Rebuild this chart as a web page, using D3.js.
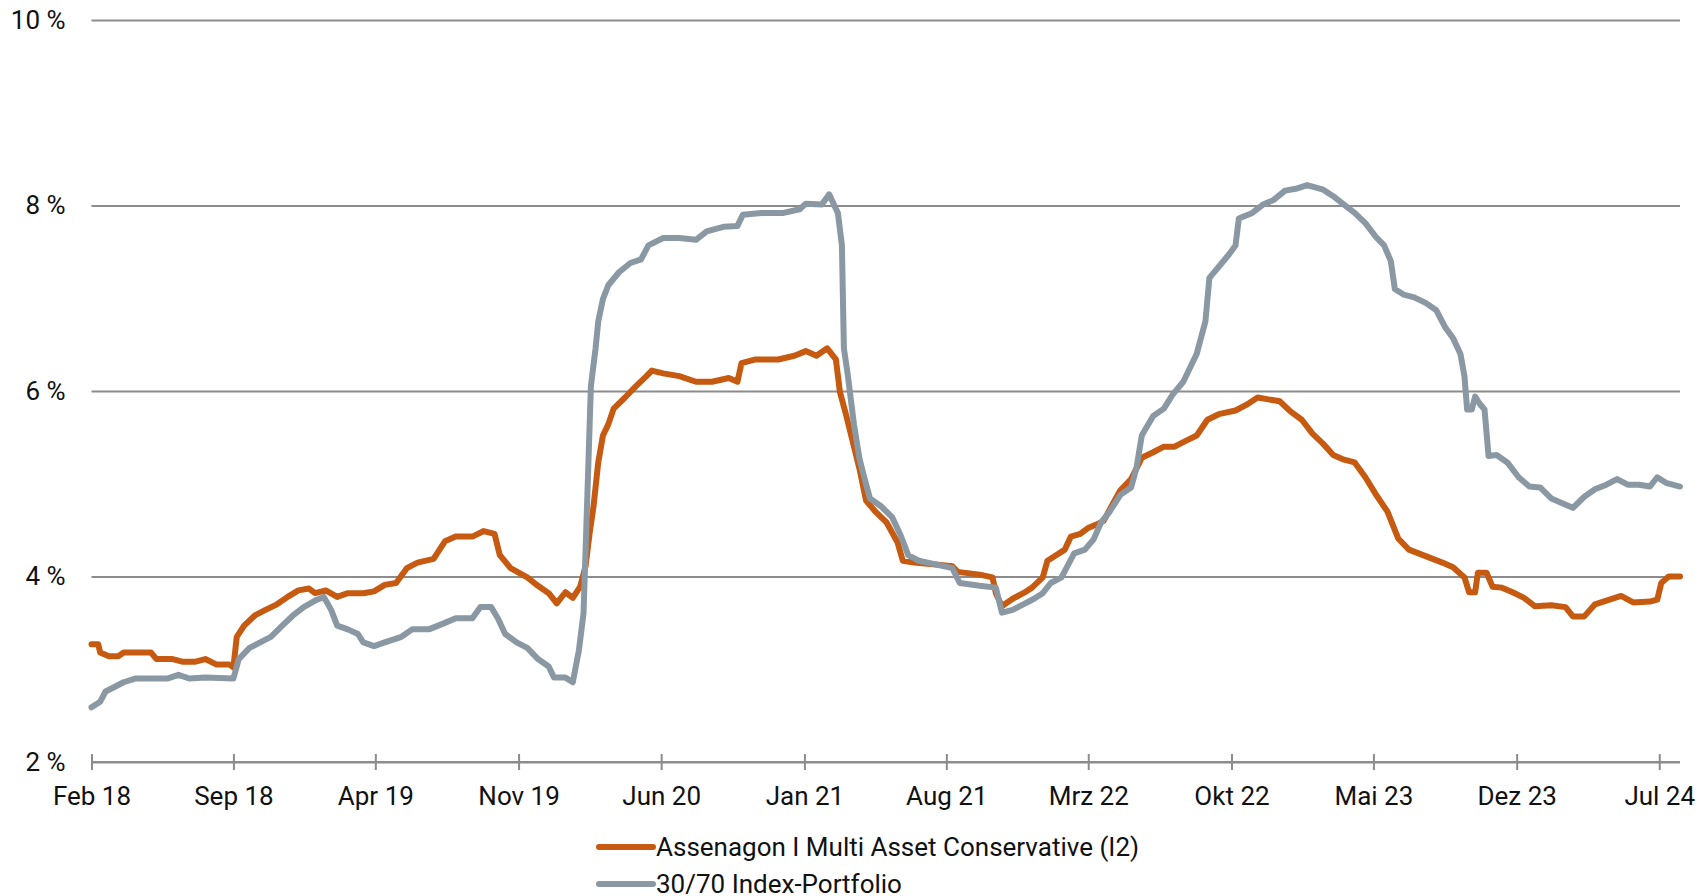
<!DOCTYPE html>
<html>
<head>
<meta charset="utf-8">
<script src="https://cdn.jsdelivr.net/npm/d3@7/dist/d3.min.js"></script>
<style>
  html, body { margin: 0; padding: 0; background: #fff; }
  svg { display: block; }
</style>
</head>
<body>
<svg width="1707" height="896"></svg>
<script>
const tickDates = ['2018-02-01','2018-09-01','2019-04-01','2019-11-01','2020-06-01','2021-01-01',
  '2021-08-01','2022-03-01','2022-10-01','2023-05-01','2023-12-01','2024-07-01'];
const tickLabels = ['Feb 18','Sep 18','Apr 19','Nov 19','Jun 20','Jan 21',
  'Aug 21','Mrz 22','Okt 22','Mai 23','Dez 23','Jul 24'];
const yTicks = [2, 4, 6, 8, 10];

const seriesNames = ['Assenagon I Multi Asset Conservative (I2)', '30/70 Index-Portfolio'];

const fund = [
  ['2018-02-01',3.27],['2018-02-11',3.27],['2018-02-14',3.18],['2018-02-27',3.14],['2018-03-13',3.14],
  ['2018-03-21',3.18],['2018-05-01',3.18],['2018-05-09',3.11],['2018-06-02',3.11],['2018-06-18',3.08],
  ['2018-07-05',3.08],['2018-07-21',3.11],['2018-08-07',3.05],['2018-08-26',3.05],['2018-09-01',3.02],
  ['2018-09-06',3.35],['2018-09-17',3.47],['2018-10-03',3.58],['2018-10-19',3.64],['2018-11-05',3.70],
  ['2018-11-21',3.78],['2018-12-07',3.85],['2018-12-23',3.87],['2019-01-01',3.82],['2019-01-17',3.85],
  ['2019-02-03',3.78],['2019-02-19',3.82],['2019-03-14',3.82],['2019-03-30',3.84],['2019-04-15',3.91],
  ['2019-05-02',3.93],['2019-05-18',4.09],['2019-06-03',4.15],['2019-06-27',4.19],['2019-07-14',4.38],
  ['2019-07-30',4.43],['2019-08-24',4.43],['2019-09-10',4.49],['2019-09-26',4.46],['2019-10-04',4.23],
  ['2019-10-20',4.09],['2019-11-14',3.99],['2019-11-30',3.90],['2019-12-16',3.82],['2019-12-28',3.71],
  ['2020-01-10',3.83],['2020-01-21',3.77],['2020-02-01',3.89],['2020-02-09',4.11],['2020-02-15',4.46],
  ['2020-02-21',4.76],['2020-02-28',5.23],['2020-03-06',5.52],['2020-03-14',5.64],['2020-03-22',5.81],
  ['2020-04-08',5.93],['2020-04-24',6.05],['2020-05-10',6.16],['2020-05-18',6.22],['2020-06-04',6.19],
  ['2020-06-28',6.16],['2020-07-23',6.10],['2020-08-16',6.10],['2020-09-10',6.14],['2020-09-23',6.10],
  ['2020-09-29',6.30],['2020-10-20',6.34],['2020-11-23',6.34],['2020-12-17',6.38],['2021-01-03',6.43],
  ['2021-01-19',6.38],['2021-02-04',6.46],['2021-02-17',6.34],['2021-02-23',5.99],['2021-03-04',5.75],
  ['2021-03-16',5.40],['2021-03-24',5.17],['2021-04-03',4.82],['2021-04-17',4.70],['2021-05-04',4.58],
  ['2021-05-20',4.37],['2021-05-28',4.17],['2021-06-14',4.15],['2021-07-16',4.13],['2021-08-10',4.11],
  ['2021-08-18',4.05],['2021-09-20',4.02],['2021-10-09',3.99],['2021-10-14',3.82],['2021-10-23',3.68],
  ['2021-11-08',3.76],['2021-11-24',3.82],['2021-12-07',3.88],['2021-12-23',3.99],['2021-12-30',4.17],
  ['2022-01-12',4.23],['2022-01-25',4.29],['2022-02-03',4.43],['2022-02-17',4.46],['2022-02-28',4.52],
  ['2022-03-13',4.56],['2022-03-24',4.60],['2022-04-05',4.76],['2022-04-18',4.93],['2022-05-04',5.05],
  ['2022-05-20',5.28],['2022-06-06',5.34],['2022-06-22',5.40],['2022-07-08',5.40],['2022-07-24',5.46],
  ['2022-08-10',5.52],['2022-08-26',5.69],['2022-09-12',5.75],['2022-10-07',5.79],['2022-10-23',5.85],
  ['2022-11-09',5.93],['2022-11-25',5.91],['2022-12-12',5.89],['2022-12-28',5.78],['2023-01-14',5.69],
  ['2023-01-30',5.54],['2023-02-15',5.43],['2023-03-02',5.31],['2023-03-18',5.26],['2023-04-03',5.23],
  ['2023-04-19',5.07],['2023-05-06',4.87],['2023-05-22',4.70],['2023-06-07',4.41],['2023-06-23',4.29],
  ['2023-07-18',4.22],['2023-08-12',4.15],['2023-08-28',4.10],['2023-09-14',3.99],['2023-09-21',3.83],
  ['2023-09-30',3.83],['2023-10-04',4.04],['2023-10-17',4.04],['2023-10-26',3.89],['2023-11-09',3.88],
  ['2023-11-25',3.83],['2023-12-12',3.77],['2023-12-28',3.68],['2024-01-22',3.69],['2024-02-12',3.67],
  ['2024-02-23',3.57],['2024-03-11',3.57],['2024-03-27',3.70],['2024-04-13',3.74],['2024-05-05',3.79],
  ['2024-05-23',3.72],['2024-06-17',3.73],['2024-06-28',3.75],['2024-07-04',3.93],['2024-07-15',4.00],
  ['2024-08-01',4.00]
];

const index = [
  ['2018-02-01',2.59],['2018-02-14',2.65],['2018-02-22',2.76],['2018-03-05',2.80],['2018-03-21',2.86],
  ['2018-04-07',2.90],['2018-05-25',2.90],['2018-06-11',2.94],['2018-06-27',2.90],['2018-07-21',2.91],
  ['2018-09-01',2.90],['2018-09-09',3.11],['2018-09-25',3.23],['2018-10-11',3.29],['2018-10-27',3.35],
  ['2018-11-13',3.47],['2018-11-29',3.58],['2018-12-15',3.67],['2019-01-01',3.74],['2019-01-14',3.78],
  ['2019-01-25',3.64],['2019-02-03',3.47],['2019-02-19',3.43],['2019-03-06',3.38],['2019-03-14',3.29],
  ['2019-03-30',3.25],['2019-04-15',3.29],['2019-05-10',3.35],['2019-05-26',3.43],['2019-06-20',3.43],
  ['2019-07-14',3.50],['2019-07-30',3.55],['2019-08-24',3.55],['2019-09-05',3.67],['2019-09-21',3.67],
  ['2019-10-01',3.55],['2019-10-12',3.38],['2019-10-29',3.29],['2019-11-14',3.23],['2019-11-30',3.11],
  ['2019-12-16',3.03],['2019-12-24',2.91],['2020-01-10',2.91],['2020-01-21',2.86],['2020-01-30',3.20],
  ['2020-02-06',3.60],['2020-02-12',4.93],['2020-02-17',6.05],['2020-02-24',6.46],['2020-02-28',6.75],
  ['2020-03-06',6.99],['2020-03-14',7.14],['2020-03-30',7.28],['2020-04-16',7.38],['2020-05-02',7.42],
  ['2020-05-13',7.57],['2020-06-04',7.65],['2020-06-28',7.65],['2020-07-23',7.63],['2020-08-08',7.72],
  ['2020-09-02',7.77],['2020-09-23',7.78],['2020-10-01',7.90],['2020-10-29',7.92],['2020-12-01',7.92],
  ['2020-12-25',7.96],['2021-01-03',8.02],['2021-01-27',8.01],['2021-02-07',8.12],['2021-02-20',7.92],
  ['2021-02-26',7.57],['2021-03-01',6.46],['2021-03-07',6.16],['2021-03-16',5.64],['2021-03-24',5.28],
  ['2021-04-01',5.05],['2021-04-09',4.84],['2021-04-25',4.76],['2021-05-12',4.64],['2021-05-25',4.44],
  ['2021-06-05',4.23],['2021-06-21',4.17],['2021-07-16',4.13],['2021-08-10',4.09],['2021-08-21',3.93],
  ['2021-09-20',3.90],['2021-10-14',3.88],['2021-10-23',3.61],['2021-11-08',3.64],['2021-11-24',3.70],
  ['2021-12-10',3.76],['2021-12-23',3.82],['2022-01-04',3.93],['2022-01-20',3.99],['2022-02-08',4.25],
  ['2022-02-24',4.29],['2022-03-09',4.40],['2022-03-20',4.58],['2022-04-02',4.70],['2022-04-18',4.88],
  ['2022-05-04',4.96],['2022-05-12',5.17],['2022-05-20',5.52],['2022-06-06',5.73],['2022-06-22',5.81],
  ['2022-07-05',5.96],['2022-07-21',6.10],['2022-08-02',6.28],['2022-08-10',6.40],['2022-08-23',6.75],
  ['2022-08-29',7.22],['2022-09-12',7.34],['2022-09-28',7.48],['2022-10-07',7.57],['2022-10-12',7.86],
  ['2022-11-01',7.92],['2022-11-17',8.01],['2022-12-03',8.06],['2022-12-20',8.16],['2023-01-05',8.18],
  ['2023-01-22',8.22],['2023-02-15',8.17],['2023-03-02',8.10],['2023-03-18',8.01],['2023-04-03',7.92],
  ['2023-04-19',7.81],['2023-05-06',7.65],['2023-05-17',7.57],['2023-05-27',7.40],['2023-06-02',7.10],
  ['2023-06-15',7.04],['2023-07-01',7.01],['2023-07-18',6.95],['2023-08-03',6.87],['2023-08-16',6.69],
  ['2023-08-28',6.57],['2023-09-08',6.40],['2023-09-14',6.16],['2023-09-18',5.80],['2023-09-25',5.80],
  ['2023-09-30',5.94],['2023-10-07',5.86],['2023-10-14',5.80],['2023-10-20',5.30],['2023-11-01',5.31],
  ['2023-11-17',5.23],['2023-12-04',5.07],['2023-12-20',4.97],['2024-01-05',4.96],['2024-01-22',4.84],
  ['2024-02-07',4.79],['2024-02-23',4.74],['2024-03-11',4.86],['2024-03-27',4.94],['2024-04-13',4.99],
  ['2024-04-29',5.05],['2024-05-15',4.99],['2024-06-01',4.99],['2024-06-17',4.97],['2024-06-28',5.07],
  ['2024-07-11',5.01],['2024-08-01',4.97]
];

const colors = ['#c65a11', '#8a98a3'];
const fontFamily = 'Roboto, "Open Sans", sans-serif';
const fontSize = 26;

const svg = d3.select('svg');
const parse = d3.timeParse('%Y-%m-%d');

const margin = {top: 20, left: 91.5, right: 27, bottom: 134};
const width = +svg.attr('width');
const height = +svg.attr('height');
const innerWidth = width - margin.left - margin.right;
const innerHeight = height - margin.top - margin.bottom;

const xScale = d3.scaleTime()
  .domain([parse('2018-02-01'), parse('2024-08-01')])
  .range([0, innerWidth]);

const yScale = d3.scaleLinear()
  .domain([2, 10])
  .range([innerHeight, 0]);

const g = svg.append('g')
  .attr('transform', `translate(${margin.left},${margin.top})`);

// horizontal gridlines + y labels
const yAxis = d3.axisLeft(yScale)
  .tickValues(yTicks)
  .tickSize(-innerWidth)
  .tickPadding(26)
  .tickFormat(d => d + ' %');

const yAxisG = g.append('g').call(yAxis)
  .attr('font-size', fontSize)
  .attr('font-family', fontFamily);
yAxisG.select('.domain').remove();
yAxisG.selectAll('line').attr('stroke', '#8c8c8c').attr('stroke-width', 2);
yAxisG.selectAll('text').attr('fill', '#111');

// x axis
const xAxis = d3.axisBottom(xScale)
  .tickValues(tickDates.map(parse))
  .tickSize(8)
  .tickPadding(17)
  .tickFormat((d, i) => tickLabels[i]);

const xAxisG = g.append('g')
  .attr('transform', `translate(0,${innerHeight})`)
  .call(xAxis)
  .attr('font-size', fontSize)
  .attr('font-family', fontFamily);
xAxisG.select('.domain').attr('stroke', '#8c8c8c').attr('stroke-width', 2)
  .attr('d', `M0,0H${innerWidth}`);
xAxisG.selectAll('.tick line').attr('stroke', '#8c8c8c').attr('stroke-width', 2).attr('y1', -8);
xAxisG.selectAll('text').attr('fill', '#111');

// lines
const line = d3.line()
  .x(d => xScale(parse(d[0])))
  .y(d => yScale(d[1]))
  .curve(d3.curveLinear);

[fund, index].forEach((data, i) => {
  g.append('path')
    .datum(data)
    .attr('fill', 'none')
    .attr('stroke', colors[i])
    .attr('stroke-width', 6)
    .attr('stroke-linejoin', 'round')
    .attr('stroke-linecap', 'round')
    .attr('d', line);
});

// legend
const legend = svg.append('g')
  .attr('transform', 'translate(599,847)')
  .attr('font-size', fontSize)
  .attr('font-family', fontFamily);
seriesNames.forEach((name, i) => {
  const row = legend.append('g').attr('transform', `translate(0,${i * 37})`);
  row.append('line')
    .attr('x1', 0).attr('x2', 54)
    .attr('stroke', colors[i])
    .attr('stroke-width', 6)
    .attr('stroke-linecap', 'round');
  row.append('text')
    .attr('x', 57)
    .attr('dy', '0.35em')
    .attr('fill', '#111')
    .text(name);
});
</script>
</body>
</html>
